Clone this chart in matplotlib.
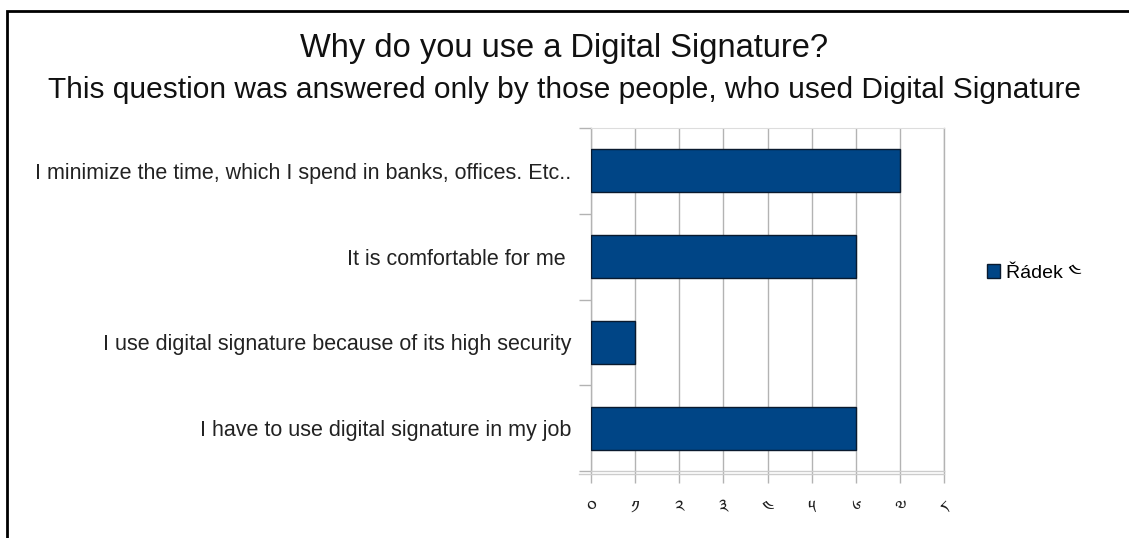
import numpy as np
import matplotlib
matplotlib.use("Agg")
import matplotlib.pyplot as plt
import matplotlib.transforms as mtransforms
from matplotlib.patches import Rectangle, Patch

plt.rcParams['font.family'] = ['Liberation Sans', 'Noto Serif Tibetan', 'DejaVu Sans']

# Survey answers, listed from top to bottom
reasons = [
    "I minimize the time, which I spend in banks, offices. Etc..",
    "It is comfortable for me ",
    "I use digital signature because of its high security",
    "I have to use digital signature in my job",
]
counts = [7, 6, 1, 6]
x_ticks = [0, 1, 2, 3, 4, 5, 6, 7, 8]
x_tick_labels = ["༠", "༡", "༢", "༣", "༤", "༥", "༦", "༧", "༨"]
series_name = "Řádek ༤"

bar_color = "#004586"
grid_color = "#b3b3b3"
axis_color = "#cccccc"

W, H = 1129, 538
fig = plt.figure(figsize=(W / 100, H / 100), dpi=100)
fig.patch.set_facecolor("white")

# black frame round the chart (left and top edges show)
fig.patches.append(Rectangle((6.5 / W, -0.1), 1.2, 1 - 10.5 / H + 0.1,
                             transform=fig.transFigure, fill=False,
                             edgecolor="black", linewidth=2))

ax = fig.add_axes([591 / W, 1 - 471 / H, (944 - 591) / W, (471 - 128) / H])

n = len(reasons)
ypos = np.arange(n)
ax.barh(ypos, counts, height=0.5, color=bar_color, edgecolor="#0a1a2e", linewidth=1, zorder=3)

ax.set_xlim(0, 8)
ax.set_ylim(n - 0.5, -0.5)

# vertical grid
ax.set_xticks(x_ticks)
ax.set_xticklabels(x_tick_labels, fontsize=13, color="#222222")
ax.xaxis.grid(True, color=grid_color, linewidth=1, zorder=0)
ax.tick_params(axis="x", length=8.6, width=1, color=grid_color, pad=12, direction="out")

# category labels at centres, tick marks at boundaries
ax.set_yticks(ypos)
ax.set_yticklabels(reasons, fontsize=15.5, color="#222222")
ax.set_yticks(np.arange(n + 1) - 0.5, minor=True)
ax.tick_params(axis="y", which="major", length=0, pad=14)
ax.tick_params(axis="y", which="minor", length=8.6, width=1, color=grid_color)

for side in ["left", "right"]:
    ax.spines[side].set_color(grid_color)
    ax.spines[side].set_linewidth(1)
ax.spines["top"].set_color("#dddddd")
ax.spines["bottom"].set_color(axis_color)
ax.spines["bottom"].set_linewidth(1)

# second line under the x axis
off = mtransforms.offset_copy(ax.transAxes, fig=fig, x=0, y=-3, units="dots")
ax.plot([-12 / (944 - 591), 1.0], [0, 0], transform=off, color=axis_color,
        linewidth=1, clip_on=False, zorder=2)

fig.text(0.5, 1 - 49 / H, "Why do you use a Digital Signature?", ha="center", va="center",
         fontsize=23.5, color="#111111")
fig.text(0.5, 1 - 90 / H,
         "This question was answered only by those people, who used Digital Signature",
         ha="center", va="center", fontsize=21.5, color="#111111")

handle = Patch(facecolor=bar_color, edgecolor="#0a1a2e", linewidth=1)
fig.legend([handle], [series_name], loc="center left", bbox_to_anchor=(979 / W, 1 - 273 / H),
           frameon=False, fontsize=14, handlelength=0.7, handleheight=0.7,
           handletextpad=0.3, borderaxespad=0)

fig.savefig("out.png", dpi=100)
